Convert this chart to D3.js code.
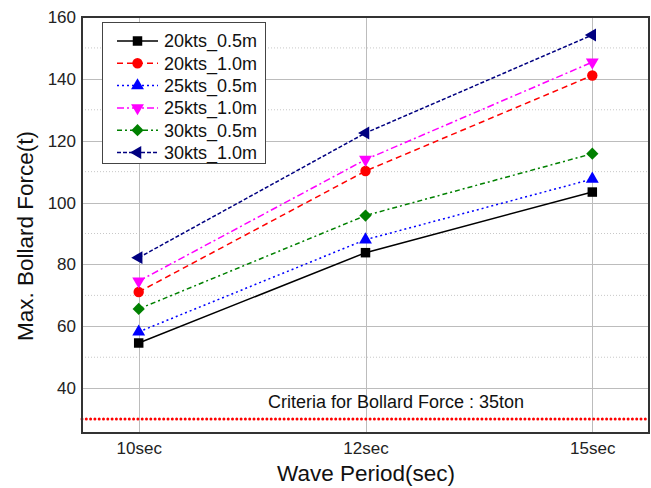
<!DOCTYPE html>
<html>
<head>
<meta charset="utf-8">
<script src="https://cdn.jsdelivr.net/npm/d3@7"></script>
<style>
  html, body { margin: 0; padding: 0; background: #fff; }
  svg { display: block; font-family: "Liberation Sans", Arial, sans-serif; }
</style>
</head>
<body>
<svg id="chart" width="651" height="488"></svg>
<script>
// ---- data ----
const categories = ["10sec", "12sec", "15sec"];
const seriesNames = ["20kts_0.5m", "20kts_1.0m", "25kts_0.5m", "25kts_1.0m", "30kts_0.5m", "30kts_1.0m"];
const s20kts05 = [54.6, 83.8, 103.4];
const s20kts10 = [71.1, 110.2, 141.1];
const s25kts05 = [58.2, 88.0, 107.6];
const s25kts10 = [74.6, 113.9, 145.4];
const s30kts05 = [65.6, 95.8, 115.8];
const s30kts10 = [82.2, 122.5, 154.2];
const yTicks = [40, 60, 80, 100, 120, 140, 160];
const yMinorTicks = [50, 70, 90, 110, 130, 150];
const criteriaValue = 30;
const criteriaLabel = "Criteria for Bollard Force : 35ton";
const xTitle = "Wave Period(sec)";
const yTitle = "Max. Bollard Force(t)";

const seriesValues = [s20kts05, s20kts10, s25kts05, s25kts10, s30kts05, s30kts10];
const styles = [
  { color: "#000000", dash: null, symbol: d3.symbolSquare, size: 90, rot: 0 },
  { color: "#ff0000", dash: "6,4", symbol: d3.symbolCircle, size: 85, rot: 0 },
  { color: "#0000ff", dash: "2,3", symbol: d3.symbolTriangle, size: 72, rot: 0 },
  { color: "#ff00ff", dash: "7,3,2,3", symbol: d3.symbolTriangle, size: 72, rot: 180 },
  { color: "#008000", dash: "5,3,2,3", symbol: d3.symbolSquare, size: 75, rot: 45 },
  { color: "#000080", dash: "4,2", symbol: d3.symbolTriangle, size: 72, rot: -90 }
];

// ---- layout ----
const svg = d3.select("#chart");
const L = 82, R = 649, T = 17, B = 433;

const x = d3.scalePoint().domain(categories).range([L, R]).padding(0.25);
const y = d3.scaleLinear().domain([25.5, 160]).range([B, T]);

// grid
const g = svg.append("g");
g.selectAll(".minor").data(yMinorTicks).join("line")
  .attr("x1", L).attr("x2", R)
  .attr("y1", d => y(d)).attr("y2", d => y(d))
  .attr("stroke", "#c8c8c8").attr("stroke-width", 1).attr("stroke-dasharray", "1,2");
g.selectAll(".major").data(yTicks.filter(d => d < 160)).join("line")
  .attr("x1", L).attr("x2", R)
  .attr("y1", d => Math.round(y(d)) + 0.5).attr("y2", d => Math.round(y(d)) + 0.5)
  .attr("stroke", "#bcbcbc").attr("stroke-width", 1);
g.selectAll(".vgrid").data(categories).join("line")
  .attr("x1", d => Math.round(x(d)) + 0.5).attr("x2", d => Math.round(x(d)) + 0.5)
  .attr("y1", T).attr("y2", B)
  .attr("stroke", "#bcbcbc").attr("stroke-width", 1);

// criteria line
svg.append("line")
  .attr("x1", L).attr("x2", R)
  .attr("y1", y(criteriaValue)).attr("y2", y(criteriaValue))
  .attr("stroke", "#ff0000").attr("stroke-width", 3)
  .attr("stroke-linecap", "round").attr("stroke-dasharray", "0,4.3");
svg.append("text")
  .attr("x", 396).attr("y", y(criteriaValue) - 11)
  .attr("text-anchor", "middle").attr("font-size", 18).attr("fill", "#111")
  .text(criteriaLabel);

// axes
const yAxis = d3.axisLeft(y).tickValues(yTicks).tickSize(0).tickPadding(6);
const yG = svg.append("g").attr("transform", `translate(${L},0)`).call(yAxis);
yG.select(".domain").remove();
yG.selectAll("text").attr("font-size", 17).attr("fill", "#222").attr("font-family", "Liberation Sans, Arial, sans-serif");

const xAxis = d3.axisBottom(x).tickSize(0).tickPadding(9);
const xG = svg.append("g").attr("transform", `translate(0,${B})`).call(xAxis);
xG.select(".domain").remove();
xG.selectAll("text").attr("font-size", 17).attr("fill", "#222").attr("font-family", "Liberation Sans, Arial, sans-serif");

// lines and markers
const line = d3.line().x((d, i) => x(categories[i])).y(d => y(d));
seriesValues.forEach((vals, si) => {
  const st = styles[si];
  svg.append("path").datum(vals)
    .attr("d", line)
    .attr("fill", "none").attr("stroke", st.color).attr("stroke-width", 1.5)
    .attr("stroke-dasharray", st.dash);
  svg.selectAll(null).data(vals).join("path")
    .attr("d", d3.symbol().type(st.symbol).size(st.size))
    .attr("transform", (d, i) => `translate(${x(categories[i])},${y(d)}) rotate(${st.rot})`)
    .attr("fill", st.color);
});

// frame
svg.append("rect").attr("x", L).attr("y", T).attr("width", R - L).attr("height", B - T)
  .attr("fill", "none").attr("stroke", "#333").attr("stroke-width", 2);

// legend
const lg = svg.append("g");
lg.append("rect").attr("x", 102.5).attr("y", 22.5).attr("width", 163).attr("height", 141)
  .attr("fill", "#fff").attr("stroke", "#444").attr("stroke-width", 1);
seriesNames.forEach((name, i) => {
  const st = styles[i];
  const cy = 41 + i * 22.3;
  lg.append("line").attr("x1", 117).attr("x2", 158).attr("y1", cy).attr("y2", cy)
    .attr("stroke", st.color).attr("stroke-width", 1.5).attr("stroke-dasharray", st.dash);
  lg.append("path").attr("d", d3.symbol().type(st.symbol).size(st.size))
    .attr("transform", `translate(137.5,${cy}) rotate(${st.rot})`).attr("fill", st.color);
  lg.append("text").attr("x", 164).attr("y", cy).attr("dy", "0.36em")
    .attr("font-size", 18).attr("fill", "#111").text(name);
});

// titles
svg.append("text").attr("x", 366).attr("y", 481)
  .attr("text-anchor", "middle").attr("font-size", 22.5).attr("fill", "#111").text(xTitle);
svg.append("text").attr("transform", "translate(33,236) rotate(-90)")
  .attr("text-anchor", "middle").attr("font-size", 22.5).attr("fill", "#111").text(yTitle);
</script>
</body>
</html>
